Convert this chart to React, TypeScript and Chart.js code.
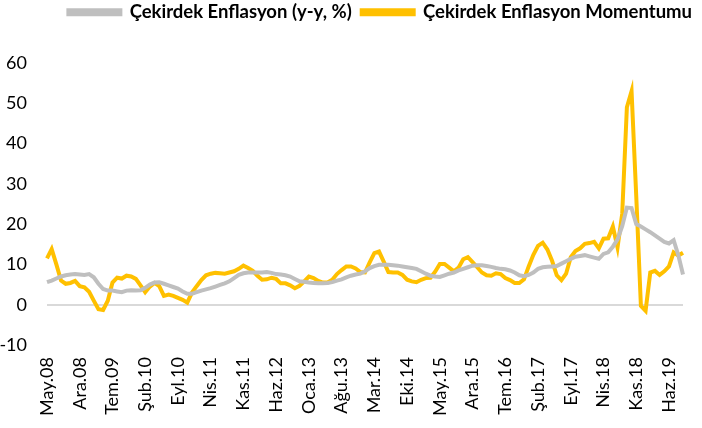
import React, { useEffect, useRef } from "react";
import { Chart, registerables } from "chart.js";

Chart.register(...registerables);

const monthNames = ["Oca", "Şub", "Mar", "Nis", "May", "Haz", "Tem", "Ağu", "Eyl", "Eki", "Kas", "Ara"];
const startYear = 2008;
const startMonth = 4; // May
const monthCount = 137; // May.08 .. Eyl.19

const categories: string[] = [];
for (let i = 0; i < monthCount; i++) {
  const m = (startMonth + i) % 12;
  const y = startYear + Math.floor((startMonth + i) / 12);
  categories.push(`${monthNames[m]}.${String(y).slice(2)}`);
}

const coreInflation = [
  5.6, 6.0, 6.5, 7.0, 7.3, 7.5, 7.6, 7.5, 7.4, 7.6,
  6.8, 5.2, 3.9, 3.5, 3.5, 3.3, 3.1, 3.5, 3.6, 3.5,
  3.6, 4.2, 5.0, 5.5, 5.6, 5.2, 4.8, 4.4, 4.0, 3.3,
  2.7, 2.7, 3.1, 3.5, 3.8, 4.1, 4.5, 4.9, 5.3, 5.8,
  6.6, 7.4, 7.8, 8.0, 8.0, 8.0, 8.0, 8.1, 7.9, 7.6,
  7.5, 7.3, 7.0, 6.4, 5.8, 5.7, 5.5, 5.4, 5.3, 5.3,
  5.4, 5.6, 6.0, 6.3, 6.8, 7.2, 7.5, 7.7, 8.3, 9.1,
  9.6, 9.9, 9.9, 9.9, 9.8, 9.7, 9.5, 9.3, 9.1, 8.9,
  8.3, 7.7, 7.2, 7.0, 6.9, 7.3, 7.7, 8.0, 8.5, 8.9,
  9.3, 9.7, 9.8, 9.8, 9.6, 9.4, 9.1, 8.9, 8.8, 8.5,
  8.0, 7.3, 7.1, 7.4, 8.0, 8.9, 9.3, 9.4, 9.5, 9.6,
  10.2, 10.8, 11.4, 11.9, 12.1, 12.3, 12.0, 11.7, 11.4, 12.6,
  13.0, 14.4, 16.2, 19.5, 24.1, 24.0, 20.0, 19.4, 18.7, 18.0,
  17.2, 16.4, 15.6, 15.2, 16.0, 12.3, 7.5,
];

const coreMomentum = [
  11.5, 13.8, 10.0, 6.0, 5.2, 5.4, 5.9, 4.6, 4.3, 3.2,
  1.0, -1.1, -1.3, 1.0, 5.5, 6.7, 6.5, 7.2, 7.0, 6.4,
  4.8, 3.1, 4.5, 5.4, 4.6, 2.2, 2.5, 2.2, 1.7, 1.2,
  0.5, 3.0, 4.6, 6.1, 7.3, 7.7, 7.9, 7.8, 7.7, 8.0,
  8.3, 8.9, 9.7, 9.1, 8.4, 7.2, 6.2, 6.3, 6.7, 6.4,
  5.3, 5.3, 4.8, 4.1, 4.7, 5.8, 7.0, 6.6, 5.9, 5.5,
  5.5, 6.2, 7.6, 8.6, 9.5, 9.5, 9.0, 8.1, 8.0, 10.5,
  12.8, 13.2, 10.7, 8.1, 8.0, 8.0, 7.4, 6.2, 5.8, 5.6,
  6.2, 6.6, 6.7, 8.2, 10.1, 10.1, 9.2, 8.3, 9.2, 11.3,
  11.8, 10.6, 9.3, 8.0, 7.3, 7.2, 7.8, 7.6, 6.6, 6.1,
  5.4, 5.4, 6.3, 9.5, 12.4, 14.6, 15.4, 13.7, 10.9, 7.3,
  6.1, 7.7, 11.8, 13.3, 14.0, 15.1, 15.3, 15.6, 14.0, 16.4,
  16.5, 19.4, 14.2, 22.6, 49.0, 53.0, 27.0, -0.3, -1.5, 8.0,
  8.4, 7.4, 8.3, 9.5, 13.0, 12.2, 12.9,
];

const seriesNames = ["Çekirdek Enflasyon (y-y, %)", "Çekirdek Enflasyon Momentumu"];
const yTicks = { min: -10, max: 60, step: 10 };
const labelEvery = 7;

export default function App() {
  const canvasRef = useRef<HTMLCanvasElement | null>(null);

  useEffect(() => {
    if (!canvasRef.current) return;
    const chart = new Chart(canvasRef.current, {
      type: "line",
      data: {
        labels: categories,
        datasets: [
          {
            label: seriesNames[0],
            data: coreInflation,
            borderColor: "#BFBFBF",
            backgroundColor: "#BFBFBF",
            borderWidth: 4,
            pointRadius: 0,
            tension: 0,
          },
          {
            label: seriesNames[1],
            data: coreMomentum,
            borderColor: "#FFC000",
            backgroundColor: "#FFC000",
            borderWidth: 4,
            pointRadius: 0,
            tension: 0,
          },
        ],
      },
      options: {
        animation: false,
        responsive: true,
        maintainAspectRatio: false,
        layout: { padding: { left: 0, right: 0, top: -7, bottom: 0 } },
        plugins: {
          legend: {
            display: true,
            position: "top",
            align: "end",
            weight: 3000,
            labels: {
              boxWidth: 52,
              boxHeight: 4,
              padding: 10,
              color: "#000",
              font: { family: "Lato", size: 18.5, weight: "bold" },
            },
          } as any,
          subtitle: {
            display: true,
            text: " ",
            color: "rgba(0,0,0,0)",
            font: { size: 10 },
            padding: { top: 0, bottom: 19.5 },
            weight: 100,
          } as any,
          tooltip: { enabled: false },
        },
        scales: {
          x: {
            type: "category",
            offset: false,
            grid: { display: false },
            border: { display: false },
            afterFit: (scale: any) => {
              scale.height = 83;
              scale.paddingRight = 19;
            },
            ticks: {
              autoSkip: false,
              minRotation: 90,
              maxRotation: 90,
              padding: 4,
              color: "#000",
              font: { family: "Lato", size: 18 },
              callback: (_v: any, i: number) => (i % labelEvery === 0 ? categories[i] : null),
            },
          },
          y: {
            min: yTicks.min,
            max: yTicks.max,
            border: { display: false },
            afterFit: (scale: any) => {
              scale.width = 47;
            },
            grid: {
              drawTicks: false,
              color: (ctx: any) => (ctx.tick && ctx.tick.value === 0 ? "#D9D9D9" : "rgba(0,0,0,0)"),
              lineWidth: 2,
            },
            ticks: {
              stepSize: yTicks.step,
              padding: 20,
              color: "#000",
              font: { family: "Lato", size: 18 },
            },
          },
        },
      },
    });
    return () => chart.destroy();
  }, []);

  return (
    <div style={{ position: "fixed", left: 0, top: 0, width: 702, height: 428, background: "#fff" }}>
      <canvas ref={canvasRef} />
    </div>
  );
}
